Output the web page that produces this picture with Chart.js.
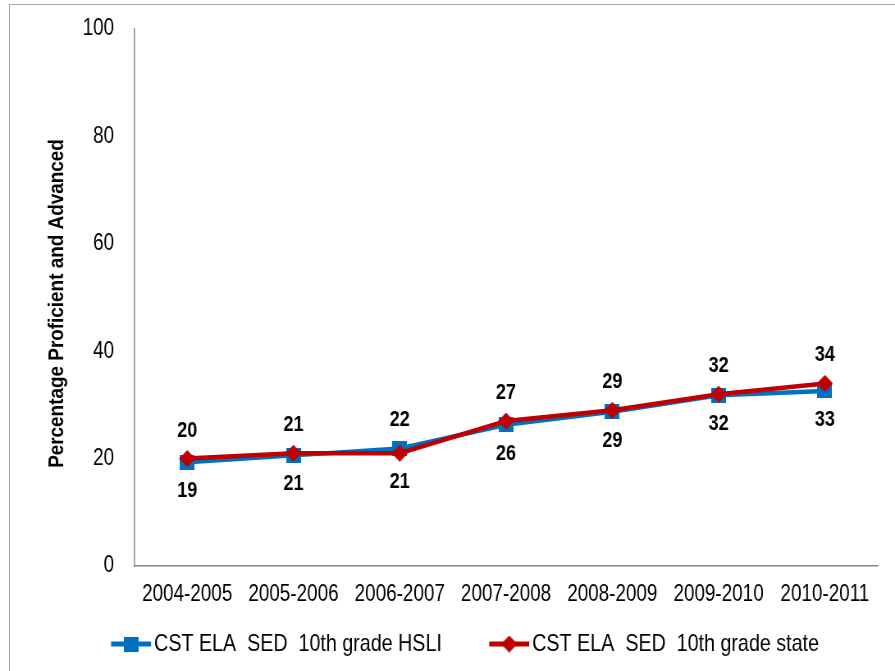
<!DOCTYPE html>
<html>
<head>
<meta charset="utf-8">
<script src="https://cdn.jsdelivr.net/npm/chart.js@4.4.1/dist/chart.umd.min.js"></script>
<style>
  html, body { margin: 0; padding: 0; background: #fff; overflow: hidden; }
  #wrap { position: relative; width: 895px; height: 671px; }
  #frame { position: absolute; left: 9px; top: 4px; width: 1000px; height: 800px;
           border: 1px solid #a6a6a6; box-sizing: border-box; }
  canvas { position: absolute; left: 0; top: 0; }
</style>
</head>
<body>
<div id="wrap">
  <div id="frame"></div>
  <!-- drawn wider and squeezed by CSS to imitate the narrow font of the original -->
  <canvas id="chart" width="1091" height="671" style="width:895px;height:671px"></canvas>
</div>
<script>
// School years on the x axis
const years = ['2004-2005', '2005-2006', '2006-2007', '2007-2008', '2008-2009', '2009-2010', '2010-2011'];

// Percentage proficient and advanced
const hsliValues = [19.3, 20.6, 21.9, 26.3, 28.7, 31.8, 32.6];
const stateValues = [20.0, 21.0, 21.0, 27.0, 29.0, 32.0, 34.0];

const seriesNames = ['CST ELA  SED  10th grade HSLI', 'CST ELA  SED  10th grade state'];
const yTicks = [0, 20, 40, 60, 80, 100];
const yTitle = 'Percentage Proficient and Advanced';

const FONT = '"Liberation Sans", Arial, sans-serif';
const BLUE = '#0070C0';
const RED = '#C00000';
const SQ = 0.82;            // horizontal squeeze of the canvas
const px = v => v / SQ;     // css x -> canvas x

/**
 * Build a marker image that looks right after the squeeze
 */
function makeMarker(shape, color, w, h) {
    const c = document.createElement('canvas');
    c.width = Math.round(px(w));
    c.height = h;
    const g = c.getContext('2d');
    g.fillStyle = color;
    if (shape === 'square') {
        g.fillRect(0, 0, c.width, c.height);
    } else {
        g.beginPath();
        g.moveTo(c.width / 2, 0);
        g.lineTo(c.width, h / 2);
        g.lineTo(c.width / 2, h);
        g.lineTo(0, h / 2);
        g.closePath();
        g.fill();
    }
    return c;
}

const squareMark = makeMarker('square', BLUE, 15, 15);
const diamondMark = makeMarker('diamond', RED, 16, 17);

/**
 * Value labels: the higher series above its point, the lower one below
 */
const valueLabels = {
    id: 'valueLabels',
    afterDatasetsDraw(chart) {
        const ctx = chart.ctx;
        const sets = chart.data.datasets;
        ctx.save();
        ctx.font = 'bold 22px ' + FONT;
        ctx.fillStyle = '#000';
        ctx.textAlign = 'center';
        ctx.textBaseline = 'middle';
        sets.forEach((ds, i) => {
            const other = sets[1 - i].data;
            chart.getDatasetMeta(i).data.forEach((pt, j) => {
                const above = ds.data[j] > other[j] || (ds.data[j] === other[j] && i === 1);
                ctx.fillText(Math.round(ds.data[j]), pt.x, pt.y + (above ? -28 : 29));
            });
        });
        ctx.restore();
    }
};

/**
 * Axis title and legend (line + marker like the original)
 */
const extras = {
    id: 'extras',
    afterDraw(chart) {
        const ctx = chart.ctx;
        const area = chart.chartArea;
        ctx.save();
        ctx.font = 'bold 21px ' + FONT;
        ctx.fillStyle = '#000';
        ctx.textAlign = 'center';
        ctx.textBaseline = 'middle';
        ctx.translate(px(57), (area.top + area.bottom) / 2 + 6);
        ctx.rotate(-Math.PI / 2);
        ctx.scale(0.9, 1 / SQ);
        ctx.fillText(yTitle, 0, 0);
        ctx.restore();

        // legend
        const legendY = 644;
        const starts = [111, 489];
        const marks = [squareMark, diamondMark];
        chart.data.datasets.forEach((ds, i) => {
            const x0 = px(starts[i]);
            const mid = x0 + px(20);
            ctx.save();
            ctx.strokeStyle = ds.borderColor;
            ctx.lineWidth = 5;
            ctx.beginPath();
            ctx.moveTo(x0, legendY);
            ctx.lineTo(x0 + px(40), legendY);
            ctx.stroke();
            const m = marks[i];
            ctx.drawImage(m, mid - m.width / 2, legendY - m.height / 2);
            ctx.font = '24px ' + FONT;
            ctx.fillStyle = '#000';
            ctx.textAlign = 'left';
            ctx.textBaseline = 'middle';
            ctx.fillText(ds.label, x0 + px(43), legendY);
            ctx.restore();
        });
    }
};

new Chart(document.getElementById('chart'), {
    type: 'line',
    data: {
        labels: years,
        datasets: [{
            label: seriesNames[0],
            data: hsliValues,
            borderColor: BLUE,
            backgroundColor: BLUE,
            pointStyle: squareMark,
            borderWidth: 4.5,
            tension: 0,
            order: 1
        }, {
            label: seriesNames[1],
            data: stateValues,
            borderColor: RED,
            backgroundColor: RED,
            pointStyle: diamondMark,
            borderWidth: 4.5,
            tension: 0,
            order: 0
        }]
    },
    options: {
        responsive: false,
        devicePixelRatio: 1,
        animation: false,
        events: [],
        layout: { padding: { left: 0, top: 29, right: px(17), bottom: 55 } },
        plugins: {
            legend: { display: false },
            tooltip: { enabled: false }
        },
        scales: {
            x: {
                offset: true,
                grid: { display: false, drawTicks: false },
                border: { display: true, color: '#868686', width: 1.5 },
                ticks: { color: '#000', padding: 15, maxRotation: 0, autoSkip: false,
                         font: { family: FONT, size: 23 } },
                afterFit(scale) { scale.height = 50; }
            },
            y: {
                min: 0,
                max: 100,
                afterBuildTicks(scale) { scale.ticks = yTicks.map(v => ({ value: v })); },
                grid: { display: false, drawTicks: false },
                border: { display: true, color: '#868686', width: 1.5 },
                ticks: { color: '#000', padding: px(20),
                         font: { family: FONT, size: 23 } },
                afterFit(scale) {
                    scale.width = px(134);
                    scale.paddingTop = 0;
                    scale.paddingBottom = 0;
                }
            }
        }
    },
    plugins: [valueLabels, extras]
});
</script>
</body>
</html>
